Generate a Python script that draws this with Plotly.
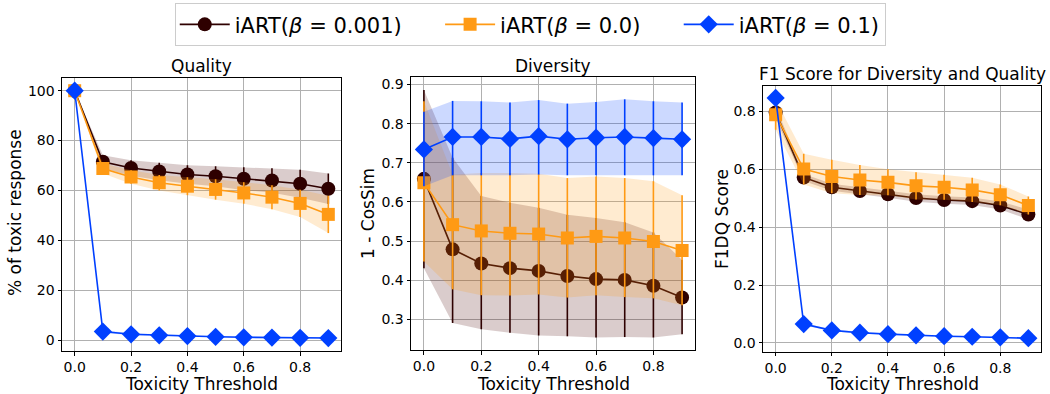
import plotly.graph_objects as go

# ---------------- data ----------------
thresholds = [0.0, 0.1, 0.2, 0.3, 0.4, 0.5, 0.6, 0.7, 0.8, 0.9]

series_names = ["iART(<i>β</i> = 0.001)", "iART(<i>β</i> = 0.0)", "iART(<i>β</i> = 0.1)"]

# Quality (% of toxic response)
quality_b001 = [100, 71.5, 69.0, 67.6, 66.4, 65.7, 64.7, 64.0, 62.7, 60.7]
quality_b001_err = [0, 2.6, 3.1, 3.5, 3.7, 4.0, 4.6, 4.9, 5.6, 6.1]
quality_b0 = [100, 68.8, 65.4, 63.1, 61.7, 60.4, 59.0, 57.3, 54.8, 50.4]
quality_b0_err = [0, 2.0, 2.7, 3.1, 3.6, 4.1, 4.3, 4.8, 5.5, 7.5]
quality_b01 = [100, 3.4, 2.3, 1.9, 1.6, 1.3, 1.1, 1.0, 0.9, 0.8]
quality_b01_err = [0, 0.5, 0.4, 0.3, 0.3, 0.3, 0.2, 0.2, 0.2, 0.2]

# Diversity (1 - CosSim): mean, lower, upper
diversity_b001 = [0.659, 0.479, 0.443, 0.431, 0.424, 0.411, 0.403, 0.401, 0.386, 0.356]
diversity_b001_lo = [0.431, 0.291, 0.275, 0.266, 0.259, 0.257, 0.254, 0.255, 0.254, 0.262]
diversity_b001_hi = [0.886, 0.713, 0.615, 0.598, 0.585, 0.567, 0.559, 0.548, 0.522, 0.452]
diversity_b0 = [0.649, 0.542, 0.526, 0.520, 0.518, 0.508, 0.512, 0.508, 0.499, 0.476]
diversity_b0_lo = [0.448, 0.377, 0.362, 0.361, 0.364, 0.356, 0.362, 0.357, 0.354, 0.336]
diversity_b0_hi = [0.857, 0.670, 0.674, 0.674, 0.672, 0.661, 0.665, 0.661, 0.653, 0.617]
diversity_b01 = [0.734, 0.766, 0.766, 0.761, 0.768, 0.760, 0.764, 0.766, 0.763, 0.760]
diversity_b01_lo = [0.640, 0.668, 0.668, 0.668, 0.670, 0.668, 0.668, 0.668, 0.668, 0.668]
diversity_b01_hi = [0.830, 0.858, 0.857, 0.854, 0.860, 0.851, 0.855, 0.862, 0.857, 0.854]

# F1DQ score
f1_b001 = [0.797, 0.572, 0.538, 0.525, 0.514, 0.501, 0.494, 0.490, 0.475, 0.444]
f1_b001_err = [0.02, 0.012, 0.012, 0.012, 0.012, 0.013, 0.013, 0.013, 0.014, 0.017]
f1_b0 = [0.789, 0.601, 0.575, 0.563, 0.555, 0.543, 0.538, 0.529, 0.512, 0.475]
f1_b0_err = [0.052, 0.053, 0.058, 0.052, 0.045, 0.047, 0.043, 0.042, 0.036, 0.031]
f1_b01 = [0.847, 0.065, 0.043, 0.035, 0.030, 0.026, 0.023, 0.021, 0.019, 0.016]
f1_b01_err = [0.005, 0.004, 0.003, 0.003, 0.002, 0.002, 0.002, 0.002, 0.002, 0.002]

x_ticks = [0.0, 0.2, 0.4, 0.6, 0.8]
x_tick_labels = ["0.0", "0.2", "0.4", "0.6", "0.8"]
quality_ticks = [0, 20, 40, 60, 80, 100]
diversity_ticks = [0.3, 0.4, 0.5, 0.6, 0.7, 0.8, 0.9]
f1_ticks = [0.0, 0.2, 0.4, 0.6, 0.8]

# ---------------- styles ----------------
FONT = "DejaVu Sans"
colors = ["#2e0000", "#ff9a14", "#0040ff"]
fills = ["rgba(70,0,0,0.2)", "rgba(255,154,20,0.2)", "rgba(0,64,255,0.2)"]
symbols = ["circle", "square", "diamond"]
msizes = [14, 13, 14]
legend_pad = "\u00a0" * 5

fig = go.Figure()


def add_series(i, xa, ya, mean, lo, hi, legend):
    # band
    fig.add_trace(go.Scatter(
        x=thresholds + thresholds[::-1], y=hi + lo[::-1],
        fill="toself", fillcolor=fills[i], line=dict(width=0),
        mode="lines", showlegend=False, hoverinfo="skip",
        xaxis=xa, yaxis=ya))
    plus = [h - m for h, m in zip(hi, mean)]
    minus = [m - l for m, l in zip(mean, lo)]
    fig.add_trace(go.Scatter(
        x=thresholds, y=mean, mode="lines+markers",
        name=series_names[i] + (legend_pad if i < 2 else ""),
        legendgroup=str(i), showlegend=legend,
        line=dict(color=colors[i], width=1.6),
        marker=dict(symbol=symbols[i], size=msizes[i], color=colors[i],
                    line=dict(width=0)),
        error_y=dict(type="data", symmetric=False, array=plus, arrayminus=minus,
                     color=colors[i], thickness=1.6, width=0),
        xaxis=xa, yaxis=ya))


def sym(mean, err):
    return ([m - e for m, e in zip(mean, err)], [m + e for m, e in zip(mean, err)])


# Quality panel
for i, (m, e) in enumerate([(quality_b001, quality_b001_err),
                            (quality_b0, quality_b0_err),
                            (quality_b01, quality_b01_err)]):
    lo, hi = sym(m, e)
    add_series(i, "x", "y", m, lo, hi, True)

# Diversity panel
for i, (m, lo, hi) in enumerate([(diversity_b001, diversity_b001_lo, diversity_b001_hi),
                                 (diversity_b0, diversity_b0_lo, diversity_b0_hi),
                                 (diversity_b01, diversity_b01_lo, diversity_b01_hi)]):
    add_series(i, "x2", "y2", m, lo, hi, False)

# F1 panel
for i, (m, e) in enumerate([(f1_b001, f1_b001_err),
                            (f1_b0, f1_b0_err),
                            (f1_b01, f1_b01_err)]):
    lo, hi = sym(m, e)
    add_series(i, "x3", "y3", m, lo, hi, False)

W, H = 1050, 394


def dom_x(a, b):
    return [a / W, b / W]


def dom_y(top, bottom):
    return [1 - bottom / H, 1 - top / H]


axis_common = dict(showgrid=True, gridcolor="#b0b0b0", gridwidth=0.8,
                   showline=True, linecolor="black", linewidth=1, mirror=True,
                   ticks="outside", ticklen=3.5, tickwidth=1, tickcolor="black",
                   tickfont=dict(family=FONT, size=14, color="black"),
                   zeroline=False, automargin=False)

panels = [
    (62, 341, 78, 351, [-4.4, 105.1], quality_ticks, [str(t) for t in quality_ticks]),
    (411, 695, 77, 350, [0.222, 0.919], diversity_ticks, ["%.1f" % t for t in diversity_ticks]),
    (763, 1041, 85.5, 351.5, [-0.03, 0.89], f1_ticks, ["%.1f" % t for t in f1_ticks]),
]

layout = dict(
    width=W, height=H, margin=dict(l=0, r=0, t=0, b=0),
    paper_bgcolor="white", plot_bgcolor="white",
    font=dict(family=FONT, color="black"),
    showlegend=True,
    legend=dict(orientation="h", x=0.505, xanchor="center", y=1 - 3 / H, yanchor="top",
                bordercolor="#cccccc", borderwidth=1.2, bgcolor="white",
                font=dict(family=FONT, size=21, color="black"),
                itemwidth=50, tracegroupgap=0),
)

annotations = []
for k, (x0, x1, t, b, yr, yt, ytl) in enumerate(panels):
    sfx = "" if k == 0 else str(k + 1)
    layout["xaxis" + sfx] = dict(axis_common, domain=dom_x(x0, x1), range=[-0.045, 0.945],
                                 tickvals=x_ticks, ticktext=x_tick_labels,
                                 anchor="y" + sfx)
    layout["yaxis" + sfx] = dict(axis_common, domain=dom_y(t, b), range=yr,
                                 tickvals=yt, ticktext=ytl, anchor="x" + sfx)

titles = ["Quality", "Diversity", "F1 Score for Diversity and Quality"]
title_y = [66.5, 66, 74]
ylabels = ["% of toxic response", "1 - CosSim", "F1DQ Score"]
ylabel_x = [15, 368, 722]
ylabel_y = [213, 214, 219]
for k, (x0, x1, t, b, *_r) in enumerate(panels):
    cx = (x0 + x1) / 2 / W
    annotations.append(dict(text=titles[k], x=cx, y=1 - title_y[k] / H, xref="paper", yref="paper",
                            xanchor="center", yanchor="middle", showarrow=False,
                            font=dict(family=FONT, size=17, color="black")))
    annotations.append(dict(text="Toxicity Threshold", x=cx, y=1 - 384 / H, xref="paper", yref="paper",
                            xanchor="center", yanchor="middle", showarrow=False,
                            font=dict(family=FONT, size=17, color="black")))
    annotations.append(dict(text=ylabels[k], x=ylabel_x[k] / W, y=1 - ylabel_y[k] / H,
                            xref="paper", yref="paper", textangle=-90,
                            xanchor="center", yanchor="middle", showarrow=False,
                            font=dict(family=FONT, size=17, color="black")))
layout["annotations"] = annotations

fig.update_layout(**layout)
fig.write_html("out.html", config={"displayModeBar": False},
               post_script="document.body.style.margin='0';document.body.style.padding='0';")
